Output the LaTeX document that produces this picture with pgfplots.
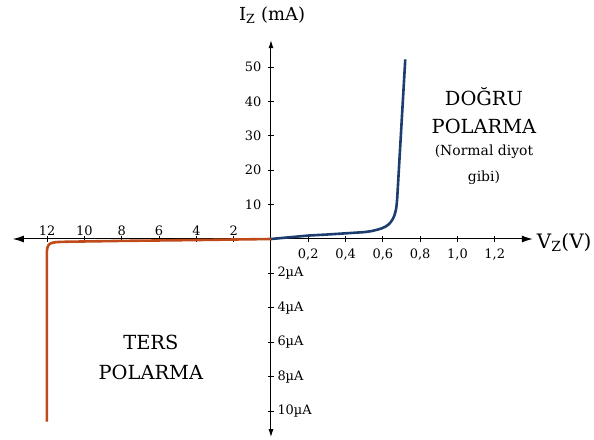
\documentclass[border=0pt]{standalone}
\usepackage{fontspec}
\setmainfont{DejaVu Serif}
\usepackage{pgfplots}
\pgfplotsset{compat=1.18}
\usetikzlibrary{arrows.meta}
\definecolor{fwd}{HTML}{1C3D6E}
\definecolor{rev}{HTML}{C04A1A}
\begin{document}
\begin{tikzpicture}
\begin{axis}[
  scale only axis, width=520bp, height=397bp,
  xmin=-6.92, xmax=7.02, ymin=-5.76, ymax=5.78,
  axis lines=middle, clip=false,
  x axis line style={{Latex[length=11bp,width=7bp]}-{Latex[length=11bp,width=7bp]}, line width=1bp},
  y axis line style={{Latex[length=8bp,width=5bp]}-{Latex[length=8bp,width=5bp]}, line width=1bp},
  tick align=center, major tick length=6bp, tick style={black, line width=0.8bp},
  tick label style={font=\fontsize{13}{15}\selectfont},
  xtick={-6,-5,-4,-3,-2,-1}, xticklabels={12,10,8,6,4,2},
  xticklabel style={anchor=south, yshift=3bp},
  extra x ticks={1,2,3,4,5,6},
  extra x tick labels={{0,2},{0,4},{0,6},{0,8},{1,0},{1,2}},
  extra x tick style={xticklabel style={anchor=north, yshift=-6bp}},
  ytick={1,2,3,4,5}, yticklabels={10,20,30,40,50},
  yticklabel style={anchor=east, xshift=-3bp},
  extra y ticks={-1,-2,-3,-4,-5},
  extra y tick labels={2µA,4µA,6µA,8µA,10µA},
  extra y tick style={yticklabel style={anchor=west, xshift=9bp}},
]
\addplot[rev, line width=2.6bp, line join=round] coordinates {
  (0,0) (-2,-0.03) (-4,-0.055) (-5.5,-0.08) (-5.75,-0.09) (-5.86,-0.11)
  (-5.93,-0.14) (-5.97,-0.19) (-5.995,-0.26) (-6.01,-0.36) (-6.01,-5.31)};
\addplot[fwd, line width=2.6bp, line join=round] coordinates {
  (0,0) (0.5,0.05) (1,0.1) (1.5,0.13) (2,0.165) (2.5,0.2) (2.7,0.23)
  (2.85,0.27) (2.97,0.31) (3.07,0.36) (3.15,0.42) (3.21,0.49) (3.26,0.57)
  (3.30,0.66) (3.33,0.76) (3.355,0.88) (3.37,1.0) (3.385,1.2) (3.6,5.22)};
\node[font=\fontsize{18}{20}\selectfont] at (axis cs:0.03,6.51) {I\textsubscript{Z} (mA)};
\node[font=\fontsize{20}{22}\selectfont] at (axis cs:7.86,-0.09) {V\textsubscript{Z}(V)};
\node[font=\fontsize{19.5}{22}\selectfont] at (axis cs:5.71,4.13) {DOĞRU};
\node[font=\fontsize{19.5}{22}\selectfont] at (axis cs:5.71,3.26) {POLARMA};
\node[font=\fontsize{14}{16}\selectfont] at (axis cs:5.71,2.54) {(Normal diyot};
\node[font=\fontsize{14}{16}\selectfont] at (axis cs:5.71,1.77) {gibi)};
\node[font=\fontsize{19.5}{22}\selectfont] at (axis cs:-3.22,-3.02) {TERS};
\node[font=\fontsize{19.5}{22}\selectfont] at (axis cs:-3.22,-3.87) {POLARMA};
\coordinate (bl) at (axis cs:-7.265,-5.814);
\coordinate (tr) at (axis cs:8.66,6.948);
\end{axis}
\pgfresetboundingbox
\useasboundingbox (bl) rectangle (tr);
\end{tikzpicture}
\end{document}
